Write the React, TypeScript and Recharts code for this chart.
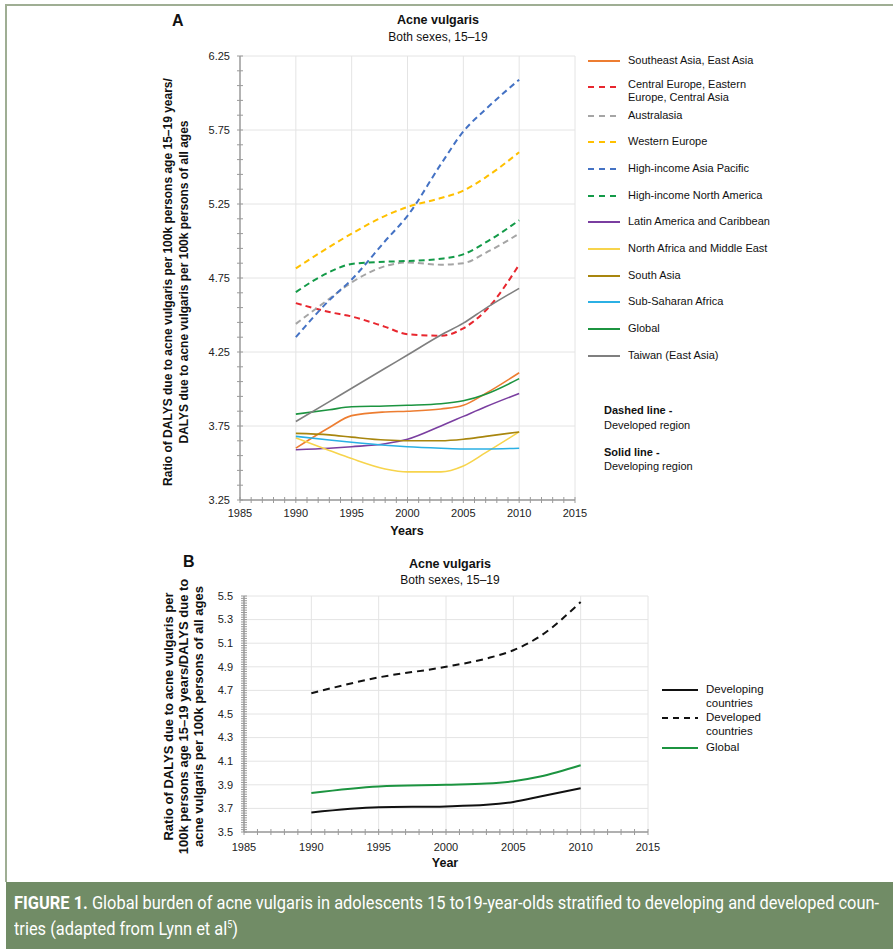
import { LineChart, Line, XAxis, YAxis, CartesianGrid } from 'recharts';

// --- Panel A data ---
const YEARS_A = [1990, 1993, 1995, 1998, 2000, 2003, 2005, 2007, 2010];

const seAsia = [3.6, 3.74, 3.82, 3.845, 3.85, 3.865, 3.89, 3.97, 4.11];
const centralEurope = [4.58, 4.52, 4.49, 4.42, 4.37, 4.36, 4.41, 4.53, 4.84];
const australasia = [4.44, 4.61, 4.72, 4.83, 4.855, 4.84, 4.85, 4.92, 5.05];
const westernEurope = [4.815, 4.96, 5.05, 5.17, 5.23, 5.29, 5.34, 5.43, 5.6];
const hiAsiaPacific = [4.35, 4.6, 4.74, 5.0, 5.17, 5.52, 5.74, 5.89, 6.09];
const hiNorthAmerica = [4.655, 4.79, 4.845, 4.86, 4.865, 4.88, 4.91, 4.99, 5.14];
const latinAmerica = [3.59, 3.6, 3.61, 3.63, 3.66, 3.75, 3.815, 3.88, 3.97];
const northAfrica = [3.67, 3.585, 3.53, 3.46, 3.44, 3.44, 3.48, 3.57, 3.71];
const southAsia = [3.7, 3.69, 3.675, 3.655, 3.65, 3.65, 3.66, 3.68, 3.71];
const subSaharan = [3.68, 3.655, 3.64, 3.62, 3.61, 3.6, 3.595, 3.595, 3.6];
const globalA = [3.83, 3.86, 3.88, 3.885, 3.89, 3.9, 3.92, 3.965, 4.07];
const taiwan = [3.78, 3.915, 4.005, 4.14, 4.23, 4.365, 4.445, 4.545, 4.68];

const SERIES_A = [
  { key: 'seAsia', name: 'Southeast Asia, East Asia', values: seAsia, color: '#ed7d31', dashed: false },
  { key: 'centralEurope', name: 'Central Europe, Eastern|Europe, Central Asia', values: centralEurope, color: '#e8262e', dashed: true },
  { key: 'australasia', name: 'Australasia', values: australasia, color: '#a5a5a5', dashed: true },
  { key: 'westernEurope', name: 'Western Europe', values: westernEurope, color: '#ffc000', dashed: true },
  { key: 'hiAsiaPacific', name: 'High-income Asia Pacific', values: hiAsiaPacific, color: '#4472c4', dashed: true },
  { key: 'hiNorthAmerica', name: 'High-income North America', values: hiNorthAmerica, color: '#139a48', dashed: true },
  { key: 'latinAmerica', name: 'Latin America and Caribbean', values: latinAmerica, color: '#7a3ea0', dashed: false },
  { key: 'northAfrica', name: 'North Africa and Middle East', values: northAfrica, color: '#f7d44c', dashed: false },
  { key: 'southAsia', name: 'South Asia', values: southAsia, color: '#a8860e', dashed: false },
  { key: 'subSaharan', name: 'Sub-Saharan Africa', values: subSaharan, color: '#2bb0e4', dashed: false },
  { key: 'globalA', name: 'Global', values: globalA, color: '#1c9440', dashed: false },
  { key: 'taiwan', name: 'Taiwan (East Asia)', values: taiwan, color: '#7f7f7f', dashed: false },
];

const MAJOR_Y_A = [3.25, 3.75, 4.25, 4.75, 5.25, 5.75, 6.25];
const MAJOR_X = [1985, 1990, 1995, 2000, 2005, 2010, 2015];

// --- Panel B data ---
const YEARS_B = [1990, 1995, 2000, 2003, 2005, 2007, 2010];
const developing = [3.666, 3.71, 3.717, 3.73, 3.755, 3.8, 3.87];
const developed = [4.676, 4.81, 4.9, 4.97, 5.04, 5.16, 5.45];
const globalB = [3.83, 3.886, 3.9, 3.91, 3.93, 3.97, 4.065];

const SERIES_B = [
  { key: 'developing', name: 'Developing|countries', values: developing, color: '#111111', dashed: false },
  { key: 'developed', name: 'Developed|countries', values: developed, color: '#111111', dashed: true },
  { key: 'globalB', name: 'Global', values: globalB, color: '#1c9440', dashed: false },
];

const MAJOR_Y_B = [3.5, 3.7, 3.9, 4.1, 4.3, 4.5, 4.7, 4.9, 5.1, 5.3, 5.5];

const dataA = YEARS_A.map((year, i) => {
  const row: Record<string, number> = { year };
  SERIES_A.forEach((s) => (row[s.key] = s.values[i]));
  return row;
});

const dataB = YEARS_B.map((year, i) => {
  const row: Record<string, number> = { year };
  SERIES_B.forEach((s) => (row[s.key] = s.values[i]));
  return row;
});

// minor ticks: every 0.1 (A), every 0.02 (B), every year (x)
const ticksA: number[] = [];
for (let i = 0; i <= 30; i++) ticksA.push(Math.round((3.25 + i * 0.1) * 100) / 100);
const ticksB: number[] = [];
for (let i = 0; i <= 100; i++) ticksB.push(Math.round((3.5 + i * 0.02) * 100) / 100);
const ticksX: number[] = [];
for (let y = 1985; y <= 2015; y++) ticksX.push(y);

const FONT = "'Liberation Sans', Arial, sans-serif";
const AXIS = '#9a9a9a';
const GRID = '#e4e4e4';

const isIn = (list: number[], v: number) => list.some((m) => Math.abs(m - v) < 1e-6);

function YTick(props: any) {
  const { x, y, payload, majors, digits, gap } = props;
  const v = payload.value as number;
  return (
    <g>
      <line x1={x - 3} x2={x + 3} y1={y} y2={y} stroke={AXIS} strokeWidth={1} />
      {isIn(majors, v) && (
        <text x={x - gap} y={y} dy="0.35em" textAnchor="end" fontSize={11} fill="#222" fontFamily={FONT}>
          {v.toFixed(digits)}
        </text>
      )}
    </g>
  );
}

function XTick(props: any) {
  const { x, y, payload, gap } = props;
  const v = payload.value as number;
  return (
    <g>
      <line x1={x} x2={x} y1={y - 3} y2={y + 3} stroke={AXIS} strokeWidth={1} />
      {isIn(MAJOR_X, v) && (
        <text x={x} y={y + gap} dy="0.35em" textAnchor="middle" fontSize={11} fill="#222" fontFamily={FONT}>
          {v}
        </text>
      )}
    </g>
  );
}

function RotatedLabel({ cx, cy, lines, fontSize, lineHeight }: {
  cx: number; cy: number; lines: string[]; fontSize: number; lineHeight: number;
}) {
  const w = 500;
  const h = lines.length * lineHeight;
  return (
    <div
      style={{
        position: 'absolute', left: cx - w / 2, top: cy - h / 2, width: w, height: h,
        transform: 'rotate(-90deg)', textAlign: 'center', fontFamily: FONT, fontWeight: 'bold',
        fontSize, lineHeight: `${lineHeight}px`, color: '#111', whiteSpace: 'nowrap',
      }}
    >
      {lines.map((l) => <div key={l}>{l}</div>)}
    </div>
  );
}

function Text({ x, y, children, size = 11, bold = false, center = false }: {
  x: number; y: number; children: any; size?: number; bold?: boolean; center?: boolean;
}) {
  return (
    <div
      style={{
        position: 'absolute', left: center ? x - 200 : x, top: y - size * 0.6, width: center ? 400 : undefined,
        textAlign: center ? 'center' : 'left', fontFamily: FONT, fontSize: size,
        fontWeight: bold ? 'bold' : 'normal', color: '#111', whiteSpace: 'nowrap', lineHeight: `${size * 1.2}px`,
      }}
    >
      {children}
    </div>
  );
}

function LegendSwatch({ x, y, color, dashed, len }: { x: number; y: number; color: string; dashed: boolean; len: number }) {
  return (
    <svg style={{ position: 'absolute', left: x, top: y - 3 }} width={len} height={6}>
      <line x1={0} x2={len} y1={3} y2={3} stroke={color} strokeWidth={2} strokeDasharray={dashed ? '6 5' : undefined} />
    </svg>
  );
}

const LEGEND_A_ROWS = [61, 85, 116, 142, 169, 196, 222, 249, 276, 302, 329, 356];
const LEGEND_B_ROWS = [690, 718, 748];

export default function App() {
  return (
    <div style={{ position: 'absolute', left: 0, top: 0, width: 893, height: 949, background: '#fff', overflow: 'hidden' }}>
      {/* frame */}
      <div style={{ position: 'absolute', left: 5, top: 4, width: 888, height: 2, background: '#9fae94' }} />
      <div style={{ position: 'absolute', left: 5, top: 4, width: 2, height: 878, background: '#9fae94' }} />

      {/* Panel A */}
      <Text x={172} y={21} size={16} bold>A</Text>
      <Text x={438} y={20} size={12.5} bold center>Acne vulgaris</Text>
      <Text x={438} y={37} size={12} center>Both sexes, 15–19</Text>
      <RotatedLabel
        cx={176} cy={282} fontSize={12} lineHeight={16}
        lines={[
          'Ratio of DALYS due to acne vulgaris per 100k persons age 15–19 years/',
          'DALYS due to acne vulgaris per 100k persons of all ages',
        ]}
      />
      <div style={{ position: 'absolute', left: 150, top: 0 }}>
        <LineChart width={440} height={560} data={dataA} margin={{ top: 56, right: 15, bottom: 30, left: 0 }}>
          <CartesianGrid
            stroke={GRID}
            horizontalValues={MAJOR_Y_A}
            verticalValues={[1990, 1995, 2000, 2005, 2010, 2015]}
          />
          <XAxis
            dataKey="year" type="number" domain={[1985, 2015]} ticks={ticksX} interval={0}
            height={30} stroke={AXIS} strokeWidth={1.5} tickLine={false} tickSize={0} tickMargin={0}
            tick={(p: any) => <XTick {...p} gap={13} />}
          />
          <YAxis
            type="number" domain={[3.25, 6.25]} ticks={ticksA} interval={0} width={90}
            stroke={AXIS} strokeWidth={1.5} tickLine={false} tickSize={0} tickMargin={0}
            tick={(p: any) => <YTick {...p} majors={MAJOR_Y_A} digits={2} gap={10} />}
          />
          {SERIES_A.map((s) => (
            <Line
              key={s.key} dataKey={s.key} type="monotone" stroke={s.color}
              strokeWidth={s.dashed ? 2 : 1.6} strokeDasharray={s.dashed ? '6 4' : undefined}
              dot={false} isAnimationActive={false}
            />
          ))}
        </LineChart>
      </div>
      <Text x={407} y={531} size={12.5} bold center>Years</Text>

      {/* Legend A */}
      {SERIES_A.map((s, i) => {
        const parts = s.name.split('|');
        return (
          <div key={s.key}>
            <LegendSwatch x={588} y={LEGEND_A_ROWS[i] + (parts.length > 1 ? 2 : 0)} color={s.color} dashed={s.dashed} len={32} />
            {parts.map((p, j) => (
              <Text key={p} x={628} y={LEGEND_A_ROWS[i] + j * 13} size={11}>{p}</Text>
            ))}
          </div>
        );
      })}
      <Text x={604} y={411} size={11} bold>Dashed line -</Text>
      <Text x={604} y={426} size={11}>Developed region</Text>
      <Text x={604} y={453} size={11} bold>Solid line -</Text>
      <Text x={604} y={467} size={11}>Developing region</Text>

      {/* Panel B */}
      <Text x={183} y={562} size={16} bold>B</Text>
      <Text x={450} y={564} size={12.5} bold center>Acne vulgaris</Text>
      <Text x={450} y={580} size={12} center>Both sexes, 15–19</Text>
      <RotatedLabel
        cx={183} cy={716} fontSize={13} lineHeight={15}
        lines={[
          'Ratio of DALYS due to acne vulgaris per',
          '100k persons age 15–19 years/DALYS due to',
          'acne vulgaris per 100k persons of all ages',
        ]}
      />
      <div style={{ position: 'absolute', left: 150, top: 540 }}>
        <LineChart width={520} height={340} data={dataB} margin={{ top: 56, right: 22, bottom: 18, left: 0 }}>
          <CartesianGrid
            stroke={GRID}
            horizontalValues={MAJOR_Y_B}
            verticalValues={[1990, 1995, 2000, 2005, 2010, 2015]}
          />
          <XAxis
            dataKey="year" type="number" domain={[1985, 2015]} ticks={ticksX} interval={0}
            height={30} stroke={AXIS} strokeWidth={1.5} tickLine={false} tickSize={0} tickMargin={0}
            tick={(p: any) => <XTick {...p} gap={15} />}
          />
          <YAxis
            type="number" domain={[3.5, 5.5]} ticks={ticksB} interval={0} width={94}
            stroke={AXIS} strokeWidth={1.5} tickLine={false} tickSize={0} tickMargin={0}
            tick={(p: any) => <YTick {...p} majors={MAJOR_Y_B} digits={1} gap={11} />}
          />
          {SERIES_B.map((s) => (
            <Line
              key={s.key} dataKey={s.key} type="monotone" stroke={s.color}
              strokeWidth={2} strokeDasharray={s.dashed ? '7 5' : undefined}
              dot={false} isAnimationActive={false}
            />
          ))}
        </LineChart>
      </div>
      <Text x={445} y={863} size={12.5} bold center>Year</Text>

      {/* Legend B */}
      {SERIES_B.map((s, i) => {
        const parts = s.name.split('|');
        return (
          <div key={s.key}>
            <LegendSwatch x={662} y={LEGEND_B_ROWS[i]} color={s.color} dashed={s.dashed} len={36} />
            {parts.map((p, j) => (
              <Text key={p} x={706} y={LEGEND_B_ROWS[i] + j * 14} size={11.5}>{p}</Text>
            ))}
          </div>
        );
      })}

      {/* Caption */}
      <div
        style={{
          position: 'absolute', left: 6, top: 882, width: 887, height: 67, background: '#718c66',
          overflow: 'hidden',
        }}
      >
        <div
          style={{
            position: 'absolute', left: 8, top: 8, color: '#fff',
            fontFamily: "'Liberation Sans Narrow', 'Roboto', sans-serif",
            fontSize: 18.5, lineHeight: '26px', whiteSpace: 'nowrap',
            transform: 'scaleX(0.887)', transformOrigin: 'left top',
          }}
        >
          <div><b>FIGURE 1.</b> Global burden of acne vulgaris in adolescents 15 to19-year-olds stratified to developing and developed coun-</div>
          <div>tries (adapted from Lynn et al<sup style={{ fontSize: 10, lineHeight: 0 }}>5</sup>)</div>
        </div>
      </div>
    </div>
  );
}
